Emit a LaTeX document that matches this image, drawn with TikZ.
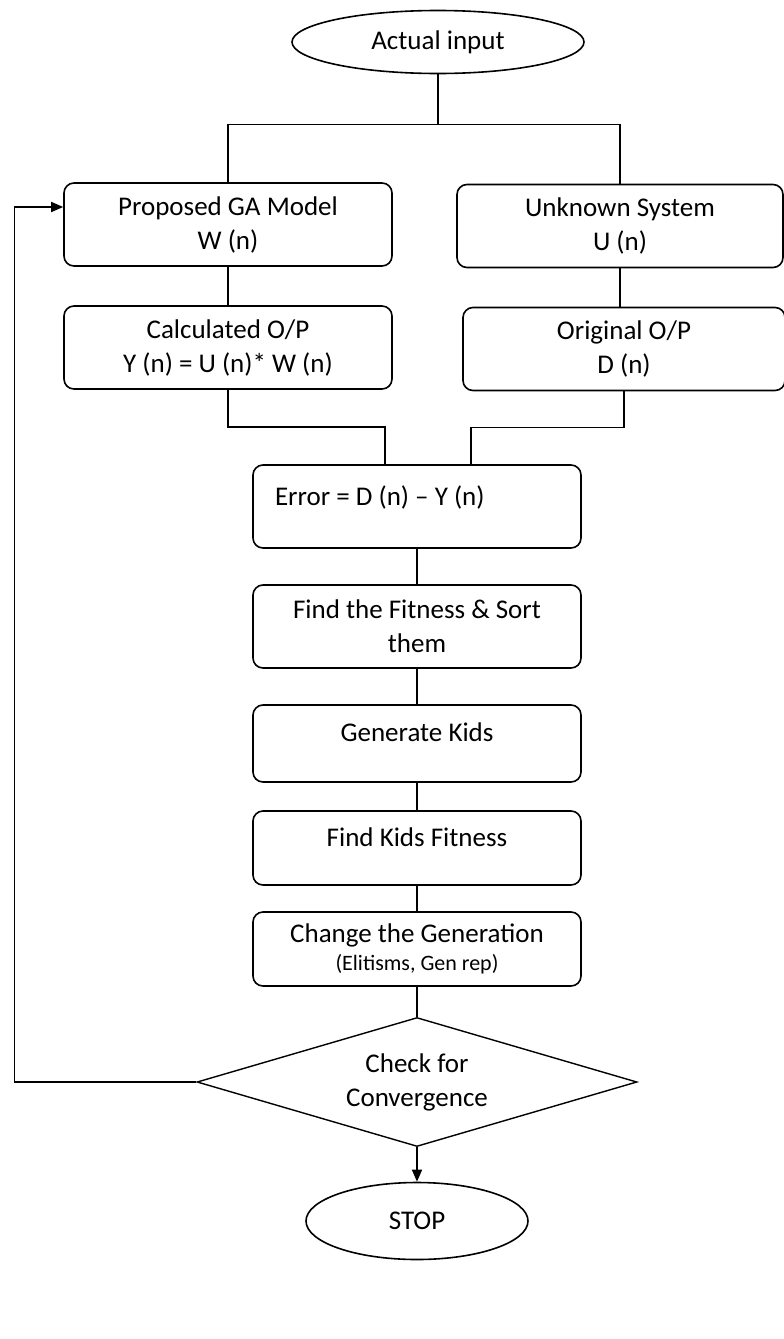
\documentclass[tikz,border=0pt]{standalone}
\usepackage{fontspec}
\setmainfont{Carlito}
\usetikzlibrary{positioning}
\usetikzlibrary{shapes.geometric}
\usetikzlibrary{arrows.meta}

\begin{document}
\begin{tikzpicture}[
    x=0.5pt, y=-0.5pt,
    every node/.style={font=\fontsize{13.5}{17}\selectfont},
    terminal/.style={ellipse, draw, line width=0.8pt, inner sep=0pt},
    stepbox/.style={rectangle, rounded corners=5pt, draw, line width=0.8pt, minimum width=164pt, minimum height=41.5pt, align=center, inner sep=2pt},
    decision/.style={diamond, draw, line width=0.7pt, aspect=3.4, minimum width=220pt, minimum height=64.5pt, inner sep=0pt, align=center},
    link/.style={line width=0.8pt},
    arrow/.style={-{Triangle[length=6pt,width=5pt]}, line width=0.8pt}
]
    \useasboundingbox (0,0) rectangle (783,1339);

    % Input and the two branches
    \node[terminal, minimum width=146pt, minimum height=31.5pt] (input) at (438,42) {Actual input};
    \node[stepbox] (model) at (228,224.5) {Proposed GA Model\\W (n)};
    \node[stepbox, minimum width=163pt] (unknown) at (620,226) {Unknown System\\U (n)};
    \node[stepbox] (calc) at (228,347.5) {Calculated O/P\\Y (n) = U (n)* W (n)};
    \node[stepbox, minimum width=161pt] (orig) at (624,349) {Original O/P\\D (n)};

    % GA steps
    \node[stepbox, align=flush left, text width=142pt] (err) at (417,506.5) {Error = D (n) -- Y (n)\\[-6pt]\mbox{}};
    \node[stepbox] (fit) at (417,626.5) {Find the Fitness \& Sort\\them};
    \node[stepbox, minimum height=38.5pt] (kids) at (417,743.5) {Generate Kids\\[-6pt]\mbox{}};
    \node[stepbox, minimum height=37pt] (kidfit) at (417,848) {Find Kids Fitness\\[-6pt]\mbox{}};
    \node[stepbox, minimum height=37pt] (gen) at (417,949) {Change the Generation\\[-3pt]{\fontsize{11}{13}\selectfont (Elitisms, Gen rep)}};

    % Decision and end
    \node[decision] (check) at (417,1082) {Check for\\Convergence};
    \node[terminal, minimum width=111pt, minimum height=38.5pt] (stop) at (417,1221) {STOP};

    % Connections
    \draw[link] (input.south) -- ++(0,50) coordinate (split);
    \draw[link] (split) -| (model.north);
    \draw[link] (split) -| (unknown.north);
    \draw[link] (model) -- (calc);
    \draw[link] (unknown.south) -- (unknown.south |- orig.north);
    \draw[link] (calc.south) -- ++(0,37) -| ([xshift=-16pt]err.north);
    \draw[link] (orig.south) -- ++(0,36) -| ([xshift=27pt]err.north);
    \draw[link] (err) -- (fit);
    \draw[link] (fit) -- (kids);
    \draw[link] (kids) -- (kidfit);
    \draw[link] (kidfit) -- (gen);
    \draw[link] (gen) -- (check);
    \draw[arrow] (check.south) -- (stop.north);

    % Loop back
    \draw[arrow] (check.west) -- ++(-182,0) |- ([yshift=8.75pt]model.west);
\end{tikzpicture}
\end{document}
